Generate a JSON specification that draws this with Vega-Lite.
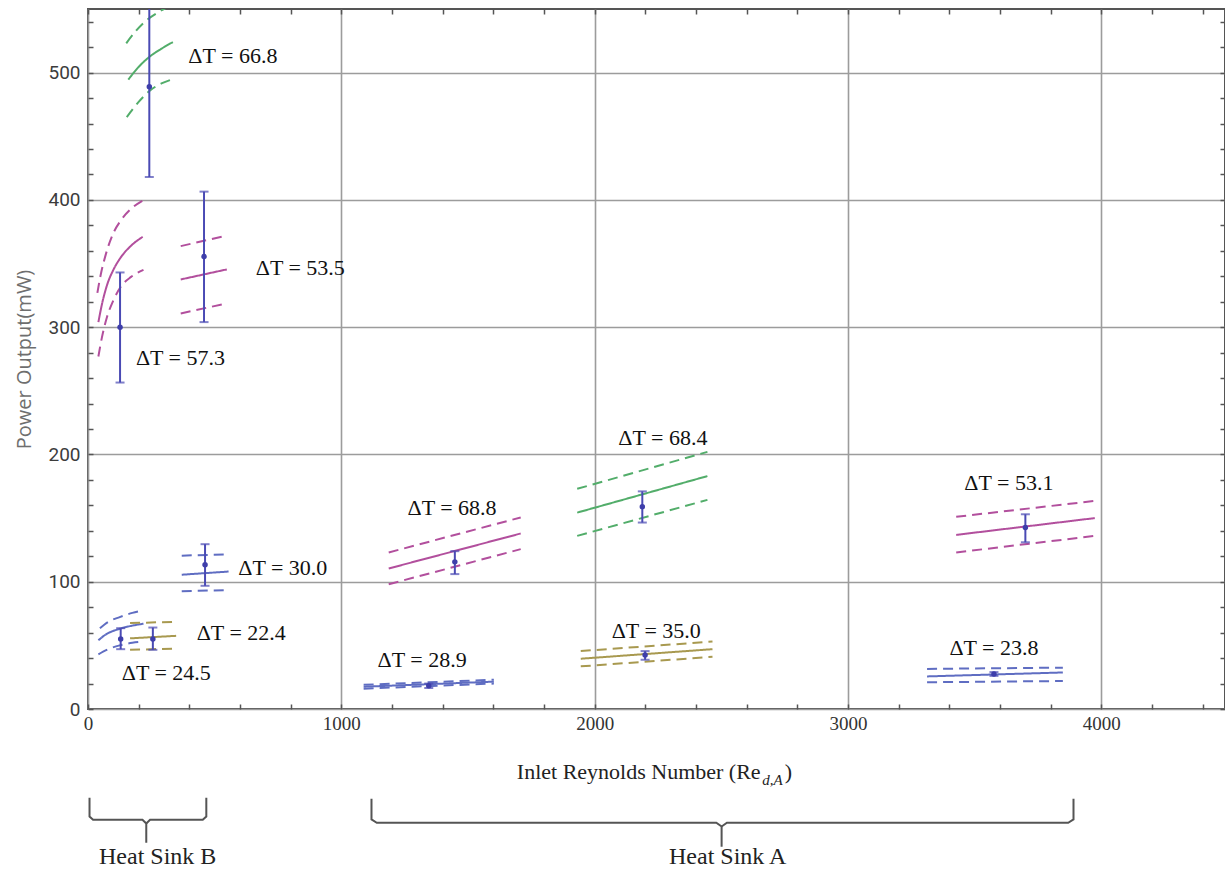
{
  "$schema": "https://vega.github.io/schema/vega-lite/v6.json",
  "width": 1137,
  "height": 700,
  "autosize": {"type": "none"},
  "padding": {"left": 88, "top": 9, "right": 0, "bottom": 164},
  "background": "white",
  "config": {"view": {"stroke": "#555555", "strokeWidth": 2}},
  "datasets": {
    "curves": [
      {"s": "66.8", "b": "fit", "i": 0, "x": 159, "y": 494.5},
      {"s": "66.8", "b": "fit", "i": 1, "x": 200, "y": 504.5},
      {"s": "66.8", "b": "fit", "i": 2, "x": 245, "y": 512.8},
      {"s": "66.8", "b": "fit", "i": 3, "x": 290, "y": 518.8},
      {"s": "66.8", "b": "fit", "i": 4, "x": 335, "y": 524},
      {"s": "66.8", "b": "upper", "i": 0, "x": 151, "y": 523},
      {"s": "66.8", "b": "upper", "i": 1, "x": 190, "y": 533},
      {"s": "66.8", "b": "upper", "i": 2, "x": 230, "y": 541},
      {"s": "66.8", "b": "upper", "i": 3, "x": 270, "y": 546.5},
      {"s": "66.8", "b": "upper", "i": 4, "x": 309, "y": 551},
      {"s": "66.8", "b": "lower", "i": 0, "x": 153, "y": 465},
      {"s": "66.8", "b": "lower", "i": 1, "x": 200, "y": 477},
      {"s": "66.8", "b": "lower", "i": 2, "x": 245, "y": 486},
      {"s": "66.8", "b": "lower", "i": 3, "x": 290, "y": 491.5},
      {"s": "66.8", "b": "lower", "i": 4, "x": 337, "y": 495},

      {"s": "57.3", "b": "fit", "i": 0, "x": 41, "y": 304},
      {"s": "57.3", "b": "fit", "i": 1, "x": 55, "y": 318},
      {"s": "57.3", "b": "fit", "i": 2, "x": 75, "y": 333},
      {"s": "57.3", "b": "fit", "i": 3, "x": 100, "y": 345},
      {"s": "57.3", "b": "fit", "i": 4, "x": 130, "y": 355},
      {"s": "57.3", "b": "fit", "i": 5, "x": 170, "y": 364},
      {"s": "57.3", "b": "fit", "i": 6, "x": 216, "y": 371},
      {"s": "57.3", "b": "upper", "i": 0, "x": 37, "y": 327},
      {"s": "57.3", "b": "upper", "i": 1, "x": 50, "y": 341},
      {"s": "57.3", "b": "upper", "i": 2, "x": 70, "y": 357},
      {"s": "57.3", "b": "upper", "i": 3, "x": 98, "y": 373},
      {"s": "57.3", "b": "upper", "i": 4, "x": 130, "y": 384},
      {"s": "57.3", "b": "upper", "i": 5, "x": 170, "y": 393},
      {"s": "57.3", "b": "upper", "i": 6, "x": 216, "y": 399.5},
      {"s": "57.3", "b": "lower", "i": 0, "x": 41, "y": 277},
      {"s": "57.3", "b": "lower", "i": 1, "x": 55, "y": 292},
      {"s": "57.3", "b": "lower", "i": 2, "x": 75, "y": 308},
      {"s": "57.3", "b": "lower", "i": 3, "x": 100, "y": 321},
      {"s": "57.3", "b": "lower", "i": 4, "x": 130, "y": 332},
      {"s": "57.3", "b": "lower", "i": 5, "x": 170, "y": 339.5},
      {"s": "57.3", "b": "lower", "i": 6, "x": 219, "y": 345},

      {"s": "53.5", "b": "fit", "i": 0, "x": 366, "y": 337.5},
      {"s": "53.5", "b": "fit", "i": 1, "x": 548, "y": 345.4},
      {"s": "53.5", "b": "upper", "i": 0, "x": 366, "y": 363.7},
      {"s": "53.5", "b": "upper", "i": 1, "x": 548, "y": 372},
      {"s": "53.5", "b": "lower", "i": 0, "x": 366, "y": 310.8},
      {"s": "53.5", "b": "lower", "i": 1, "x": 548, "y": 318.7},

      {"s": "30.0", "b": "fit", "i": 0, "x": 370, "y": 105.5},
      {"s": "30.0", "b": "fit", "i": 1, "x": 555, "y": 108},
      {"s": "30.0", "b": "upper", "i": 0, "x": 370, "y": 120.5},
      {"s": "30.0", "b": "upper", "i": 1, "x": 555, "y": 121.5},
      {"s": "30.0", "b": "lower", "i": 0, "x": 370, "y": 92.5},
      {"s": "30.0", "b": "lower", "i": 1, "x": 555, "y": 93.5},

      {"s": "24.5", "b": "fit", "i": 0, "x": 41, "y": 54},
      {"s": "24.5", "b": "fit", "i": 1, "x": 70, "y": 58.5},
      {"s": "24.5", "b": "fit", "i": 2, "x": 125, "y": 63},
      {"s": "24.5", "b": "fit", "i": 3, "x": 175, "y": 65.5},
      {"s": "24.5", "b": "fit", "i": 4, "x": 219, "y": 67},
      {"s": "24.5", "b": "upper", "i": 0, "x": 47, "y": 63.5},
      {"s": "24.5", "b": "upper", "i": 1, "x": 80, "y": 68.5},
      {"s": "24.5", "b": "upper", "i": 2, "x": 125, "y": 72.2},
      {"s": "24.5", "b": "upper", "i": 3, "x": 175, "y": 75.5},
      {"s": "24.5", "b": "upper", "i": 4, "x": 219, "y": 77.5},
      {"s": "24.5", "b": "lower", "i": 0, "x": 41, "y": 43},
      {"s": "24.5", "b": "lower", "i": 1, "x": 80, "y": 47},
      {"s": "24.5", "b": "lower", "i": 2, "x": 125, "y": 50},
      {"s": "24.5", "b": "lower", "i": 3, "x": 175, "y": 52},
      {"s": "24.5", "b": "lower", "i": 4, "x": 219, "y": 53},

      {"s": "22.4", "b": "fit", "i": 0, "x": 166, "y": 55.5},
      {"s": "22.4", "b": "fit", "i": 1, "x": 348, "y": 57.5},
      {"s": "22.4", "b": "upper", "i": 0, "x": 166, "y": 67.5},
      {"s": "22.4", "b": "upper", "i": 1, "x": 348, "y": 68.5},
      {"s": "22.4", "b": "lower", "i": 0, "x": 166, "y": 46.5},
      {"s": "22.4", "b": "lower", "i": 1, "x": 348, "y": 47.5},

      {"s": "68.8", "b": "fit", "i": 0, "x": 1187, "y": 110.4},
      {"s": "68.8", "b": "fit", "i": 1, "x": 1708, "y": 137.9},
      {"s": "68.8", "b": "upper", "i": 0, "x": 1187, "y": 123},
      {"s": "68.8", "b": "upper", "i": 1, "x": 1708, "y": 150.5},
      {"s": "68.8", "b": "lower", "i": 0, "x": 1187, "y": 98},
      {"s": "68.8", "b": "lower", "i": 1, "x": 1708, "y": 125.6},

      {"s": "68.4", "b": "fit", "i": 0, "x": 1931, "y": 154.3},
      {"s": "68.4", "b": "fit", "i": 1, "x": 2445, "y": 183},
      {"s": "68.4", "b": "upper", "i": 0, "x": 1931, "y": 173},
      {"s": "68.4", "b": "upper", "i": 1, "x": 2445, "y": 202},
      {"s": "68.4", "b": "lower", "i": 0, "x": 1931, "y": 136},
      {"s": "68.4", "b": "lower", "i": 1, "x": 2445, "y": 164.3},

      {"s": "28.9", "b": "fit", "i": 0, "x": 1088, "y": 17.5},
      {"s": "28.9", "b": "fit", "i": 1, "x": 1602, "y": 21.5},
      {"s": "28.9", "b": "upper", "i": 0, "x": 1088, "y": 19},
      {"s": "28.9", "b": "upper", "i": 1, "x": 1602, "y": 23},
      {"s": "28.9", "b": "lower", "i": 0, "x": 1088, "y": 16},
      {"s": "28.9", "b": "lower", "i": 1, "x": 1602, "y": 20},

      {"s": "35.0", "b": "fit", "i": 0, "x": 1945, "y": 39.5},
      {"s": "35.0", "b": "fit", "i": 1, "x": 2465, "y": 47},
      {"s": "35.0", "b": "upper", "i": 0, "x": 1945, "y": 45.5},
      {"s": "35.0", "b": "upper", "i": 1, "x": 2465, "y": 53},
      {"s": "35.0", "b": "lower", "i": 0, "x": 1945, "y": 33.5},
      {"s": "35.0", "b": "lower", "i": 1, "x": 2465, "y": 41},

      {"s": "53.1", "b": "fit", "i": 0, "x": 3427, "y": 136.8},
      {"s": "53.1", "b": "fit", "i": 1, "x": 3974, "y": 150},
      {"s": "53.1", "b": "upper", "i": 0, "x": 3427, "y": 151},
      {"s": "53.1", "b": "upper", "i": 1, "x": 3974, "y": 163.5},
      {"s": "53.1", "b": "lower", "i": 0, "x": 3427, "y": 123},
      {"s": "53.1", "b": "lower", "i": 1, "x": 3974, "y": 136},

      {"s": "23.8", "b": "fit", "i": 0, "x": 3312, "y": 25.6},
      {"s": "23.8", "b": "fit", "i": 1, "x": 3848, "y": 28.7},
      {"s": "23.8", "b": "upper", "i": 0, "x": 3312, "y": 31.5},
      {"s": "23.8", "b": "upper", "i": 1, "x": 3848, "y": 32.5},
      {"s": "23.8", "b": "lower", "i": 0, "x": 3312, "y": 21},
      {"s": "23.8", "b": "lower", "i": 1, "x": 3848, "y": 22}
    ],
    "err": [
      {"s": "66.8", "x": 242, "y": 489, "lo": 418, "hi": 560},
      {"s": "57.3", "x": 126.5, "y": 300, "lo": 256.5, "hi": 343},
      {"s": "53.5", "x": 458, "y": 355.5, "lo": 304, "hi": 406.5},
      {"s": "30.0", "x": 462, "y": 113.3, "lo": 96.8, "hi": 129.5},
      {"s": "24.5", "x": 129, "y": 55, "lo": 47, "hi": 63.5},
      {"s": "22.4", "x": 256, "y": 55, "lo": 46.5, "hi": 64},
      {"s": "68.8", "x": 1448, "y": 115.6, "lo": 106, "hi": 124},
      {"s": "68.4", "x": 2188, "y": 159, "lo": 146.5, "hi": 171},
      {"s": "28.9", "x": 1345, "y": 18.3, "lo": 16.5, "hi": 20},
      {"s": "35.0", "x": 2199, "y": 42.4, "lo": 38.7, "hi": 45.5},
      {"s": "53.1", "x": 3700, "y": 142.6, "lo": 131, "hi": 153},
      {"s": "23.8", "x": 3576, "y": 27.5, "lo": 26, "hi": 29}
    ],
    "labels": [
      {"x": 572, "y": 512.7, "t": "ΔT = 66.8"},
      {"x": 365, "y": 276, "t": "ΔT = 57.3"},
      {"x": 838, "y": 346.4, "t": "ΔT = 53.5"},
      {"x": 769, "y": 110.7, "t": "ΔT = 30.0"},
      {"x": 605, "y": 59.6, "t": "ΔT = 22.4"},
      {"x": 309, "y": 28.2, "t": "ΔT = 24.5"},
      {"x": 1437, "y": 157.9, "t": "ΔT = 68.8"},
      {"x": 2269, "y": 213.3, "t": "ΔT = 68.4"},
      {"x": 1319, "y": 38.7, "t": "ΔT = 28.9"},
      {"x": 2243, "y": 60.9, "t": "ΔT = 35.0"},
      {"x": 3635, "y": 177.5, "t": "ΔT = 53.1"},
      {"x": 3576, "y": 47.9, "t": "ΔT = 23.8"}
    ],
    "braces": [
      {"p": "BL", "i": 0, "x": 6, "y": -69.8},
      {"p": "BL", "i": 1, "x": 6, "y": -84.5},
      {"p": "BL", "i": 2, "x": 20, "y": -87.1},
      {"p": "BL", "i": 3, "x": 215, "y": -87.1},
      {"p": "BL", "i": 4, "x": 230, "y": -90},
      {"p": "BL", "i": 5, "x": 230, "y": -105},
      {"p": "BR", "i": 0, "x": 467, "y": -69.8},
      {"p": "BR", "i": 1, "x": 467, "y": -84.5},
      {"p": "BR", "i": 2, "x": 453, "y": -87.1},
      {"p": "BR", "i": 3, "x": 245, "y": -87.1},
      {"p": "BR", "i": 4, "x": 230, "y": -90},
      {"p": "AL", "i": 0, "x": 1119, "y": -70.6},
      {"p": "AL", "i": 1, "x": 1119, "y": -86.8},
      {"p": "AL", "i": 2, "x": 1140, "y": -89.4},
      {"p": "AL", "i": 3, "x": 2480, "y": -89.4},
      {"p": "AL", "i": 4, "x": 2501, "y": -92.3},
      {"p": "AL", "i": 5, "x": 2501, "y": -108.3},
      {"p": "AR", "i": 0, "x": 3890, "y": -70.6},
      {"p": "AR", "i": 1, "x": 3890, "y": -86.8},
      {"p": "AR", "i": 2, "x": 3869, "y": -89.4},
      {"p": "AR", "i": 3, "x": 2522, "y": -89.4},
      {"p": "AR", "i": 4, "x": 2501, "y": -92.3}
    ],
    "sinks": [
      {"x": 275, "y": -116, "t": "Heat Sink B"},
      {"x": 2525, "y": -116, "t": "Heat Sink A"}
    ],
    "xtitle": [{"x": 2655, "y": -49.3, "t": "Inlet Reynolds Number (Re"}],
    "xsub": [{"x": 2661, "y": -55.5, "t": "d,A"}],
    "xparen": [{"x": 2750, "y": -49.3, "t": ")"}]
  },
  "resolve": {"axis": {"x": "independent", "y": "independent"}},
  "layer": [
    {
      "data": {"name": "curves"},
      "mark": {"type": "line", "strokeWidth": 2, "interpolate": "monotone", "clip": true},
      "encoding": {
        "x": {
          "field": "x", "type": "quantitative",
          "scale": {"domain": [0, 4488], "nice": false, "zero": false},
          "axis": {
            "orient": "bottom", "title": null,
            "values": [0,200,400,600,800,1000,1200,1400,1600,1800,2000,2200,2400,2600,2800,3000,3200,3400,3600,3800,4000,4200,4400],
            "labelExpr": "datum.value % 1000 === 0 ? datum.label : ''",
            "format": "d",
            "labelFlush": false, "labelOverlap": false,
            "grid": true,
            "gridOpacity": {"condition": {"test": "datum.value % 1000 === 0", "value": 1}, "value": 0},
            "gridColor": "#9c9c9c", "gridWidth": 1.6,
            "domain": false,
            "tickSize": -5, "tickColor": "#555555", "tickWidth": 1.5,
            "labelFont": "Liberation Serif", "labelFontSize": 19, "labelColor": "#333333",
            "labelPadding": 10
          }
        },
        "y": {
          "field": "y", "type": "quantitative",
          "scale": {"domain": [0, 550], "nice": false, "zero": false},
          "axis": {
            "orient": "left",
            "title": "Power Output(mW)",
            "values": [0,20,40,60,80,100,120,140,160,180,200,220,240,260,280,300,320,340,360,380,400,420,440,460,480,500,520,540],
            "labelExpr": "datum.value % 100 === 0 ? datum.label : ''",
            "format": "d",
            "labelFlush": false, "labelOverlap": false,
            "grid": true,
            "gridOpacity": {"condition": {"test": "datum.value % 100 === 0", "value": 1}, "value": 0},
            "gridColor": "#9c9c9c", "gridWidth": 1.6,
            "domain": false,
            "tickSize": -5, "tickColor": "#555555", "tickWidth": 1.5,
            "labelFont": "Roboto", "labelFontSize": 19, "labelColor": "#3c3c3c",
            "labelPadding": 13,
            "titleFont": "Open Sans", "titleFontSize": 20, "titleFontWeight": "normal",
            "titleColor": "#6e6e6e", "titlePadding": 13
          }
        },
        "color": {
          "field": "s", "type": "nominal", "legend": null,
          "scale": {
            "domain": ["66.8","57.3","53.5","30.0","24.5","22.4","68.8","68.4","28.9","35.0","53.1","23.8"],
            "range": ["#52ad6a","#b24f9d","#b24f9d","#5f6dc2","#5f6dc2","#a8994f","#b24f9d","#52ad6a","#5f6dc2","#a8994f","#b24f9d","#5f6dc2"]
          }
        },
        "strokeDash": {
          "field": "b", "type": "nominal", "legend": null,
          "scale": {"domain": ["fit","upper","lower"], "range": [[1,0],[10,6],[10,6]]}
        },
        "order": {"field": "i", "type": "quantitative"}
      }
    },
    {
      "data": {"name": "err"},
      "mark": {"type": "rule", "color": "#4a4ab4", "strokeWidth": 2, "clip": true},
      "encoding": {
        "x": {"field": "x", "type": "quantitative", "axis": null},
        "y": {"field": "lo", "type": "quantitative", "axis": null},
        "y2": {"field": "hi"}
      }
    },
    {
      "data": {"name": "err"},
      "mark": {"type": "tick", "orient": "horizontal", "color": "#4a4ab4", "size": 9, "thickness": 2, "clip": true},
      "encoding": {
        "x": {"field": "x", "type": "quantitative", "axis": null},
        "y": {"field": "lo", "type": "quantitative", "axis": null}
      }
    },
    {
      "data": {"name": "err"},
      "mark": {"type": "tick", "orient": "horizontal", "color": "#4a4ab4", "size": 9, "thickness": 2, "clip": true},
      "encoding": {
        "x": {"field": "x", "type": "quantitative", "axis": null},
        "y": {"field": "hi", "type": "quantitative", "axis": null}
      }
    },
    {
      "data": {"name": "err"},
      "mark": {"type": "point", "shape": "circle", "filled": true, "color": "#3e3eaa", "size": 30, "opacity": 1},
      "encoding": {
        "x": {"field": "x", "type": "quantitative", "axis": null},
        "y": {"field": "y", "type": "quantitative", "axis": null}
      }
    },
    {
      "data": {"name": "labels"},
      "mark": {"type": "text", "font": "Liberation Serif", "fontSize": 22, "color": "#111111", "align": "center", "baseline": "middle"},
      "encoding": {
        "x": {
          "field": "x", "type": "quantitative",
          "axis": {
            "orient": "top", "title": null, "labels": false, "grid": false, "domain": false,
            "values": [0,200,400,600,800,1000,1200,1400,1600,1800,2000,2200,2400,2600,2800,3000,3200,3400,3600,3800,4000,4200,4400],
            "tickSize": -5, "tickColor": "#555555", "tickWidth": 1.5
          }
        },
        "y": {
          "field": "y", "type": "quantitative",
          "axis": {
            "orient": "right", "title": null, "labels": false, "grid": false, "domain": false,
            "values": [0,20,40,60,80,100,120,140,160,180,200,220,240,260,280,300,320,340,360,380,400,420,440,460,480,500,520,540],
            "tickSize": -5, "tickColor": "#555555", "tickWidth": 1.5
          }
        },
        "text": {"field": "t"}
      }
    },
    {
      "data": {"name": "braces"},
      "mark": {"type": "line", "color": "#555555", "strokeWidth": 2, "clip": false},
      "encoding": {
        "x": {"field": "x", "type": "quantitative", "axis": null},
        "y": {"field": "y", "type": "quantitative", "axis": null},
        "detail": {"field": "p"},
        "order": {"field": "i", "type": "quantitative"}
      }
    },
    {
      "data": {"name": "sinks"},
      "mark": {"type": "text", "font": "Liberation Serif", "fontSize": 24, "color": "#222222", "align": "center", "baseline": "middle"},
      "encoding": {
        "x": {"field": "x", "type": "quantitative", "axis": null},
        "y": {"field": "y", "type": "quantitative", "axis": null},
        "text": {"field": "t"}
      }
    },
    {
      "data": {"name": "xtitle"},
      "mark": {"type": "text", "font": "Liberation Serif", "fontSize": 22, "color": "#222222", "align": "right", "baseline": "middle"},
      "encoding": {
        "x": {"field": "x", "type": "quantitative", "axis": null},
        "y": {"field": "y", "type": "quantitative", "axis": null},
        "text": {"field": "t"}
      }
    },
    {
      "data": {"name": "xsub"},
      "mark": {"type": "text", "font": "Liberation Serif", "fontSize": 15, "fontStyle": "italic", "color": "#222222", "align": "left", "baseline": "middle"},
      "encoding": {
        "x": {"field": "x", "type": "quantitative", "axis": null},
        "y": {"field": "y", "type": "quantitative", "axis": null},
        "text": {"field": "t"}
      }
    },
    {
      "data": {"name": "xparen"},
      "mark": {"type": "text", "font": "Liberation Serif", "fontSize": 22, "color": "#222222", "align": "left", "baseline": "middle"},
      "encoding": {
        "x": {"field": "x", "type": "quantitative", "axis": null},
        "y": {"field": "y", "type": "quantitative", "axis": null},
        "text": {"field": "t"}
      }
    }
  ]
}
